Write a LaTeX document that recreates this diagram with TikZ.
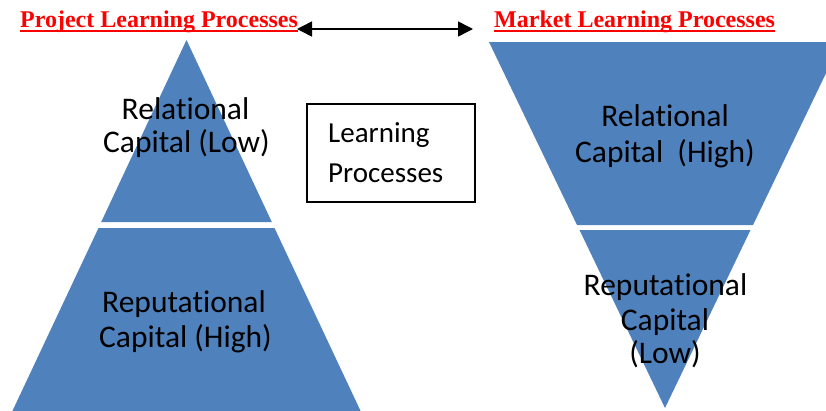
\documentclass[tikz,border=0pt]{standalone}
\usepackage{fontspec}
\setmainfont{Carlito}[Ligatures={NoCommon}]
\newfontfamily\timesfont{Liberation Serif}
\usetikzlibrary{arrows.meta}
\definecolor{pyr}{RGB}{79,129,189}
\begin{document}
\begin{tikzpicture}[x=1pt,y=-1pt,
  lbl/.style={anchor=base, inner sep=0pt, font=\fontsize{31.5}{36}\selectfont},
  boxtxt/.style={anchor=base west, inner sep=0pt, font=\fontsize{29}{34}\selectfont},
  ttl/.style={anchor=base west, inner sep=0pt, text=red, font=\timesfont\bfseries\fontsize{24}{28}\selectfont},
  ul/.style={red, line width=2pt},
  piece/.style={fill=pyr, draw=none},
  dbl/.style={{Triangle[length=15pt,width=15pt]}-{Triangle[length=15pt,width=15pt]}, line width=1.5pt}]
\useasboundingbox (0,0) rectangle (826,410);
\clip (0,0) rectangle (826,410);
% left pyramid
\fill[piece] (186.5,40) -- (271.8,222) -- (101.2,222) -- cycle;
\fill[piece] (98.5,228) -- (274.5,228) -- (362,414) -- (11,414) -- cycle;
% right inverted pyramid
\fill[piece] (489,42) -- (841,42) -- (753,225) -- (577,225) -- cycle;
\fill[piece] (579.5,230) -- (750.5,230) -- (665,408) -- cycle;
% titles
\node[ttl] (t1) at (20,27) {Project Learning Processes};
\node[ttl] (t2) at (494,27) {Market Learning Processes};
\draw[ul] ([yshift=-4pt]t1.base west) -- ([yshift=-4pt]t1.base east);
\draw[ul] ([yshift=-4pt]t2.base west) -- ([yshift=-4pt]t2.base east);
\coordinate (al) at (297,29);
\coordinate (ar) at (473,29);
\draw[dbl] (al) -- (ar);
% box
\node[draw, line width=1.5pt, minimum width=168pt, minimum height=98pt, inner sep=0pt, anchor=north west] (box) at (306,103) {};
\node[boxtxt] (b1) at (328,142) {Learning};
\node[boxtxt] (b2) at (328,182) {Processes};
% labels
\node[lbl] (l1) at (185.5,119) {Relational};
\node[lbl] (l2) at (186.5,152) {Capital (Low)};
\node[lbl] (l3) at (184,312) {Reputational};
\node[lbl] (l4) at (185.5,347) {Capital (High)};
\node[lbl] (r1) at (665,126) {Relational};
\node[lbl] (r2) at (665,162) {Capital\ \ (High)};
\node[lbl] (r3) at (665.5,295) {Reputational};
\node[lbl] (r4) at (665,330) {Capital};
\node[lbl] (r5) at (665,363) {(Low)};
\end{tikzpicture}
\end{document}
